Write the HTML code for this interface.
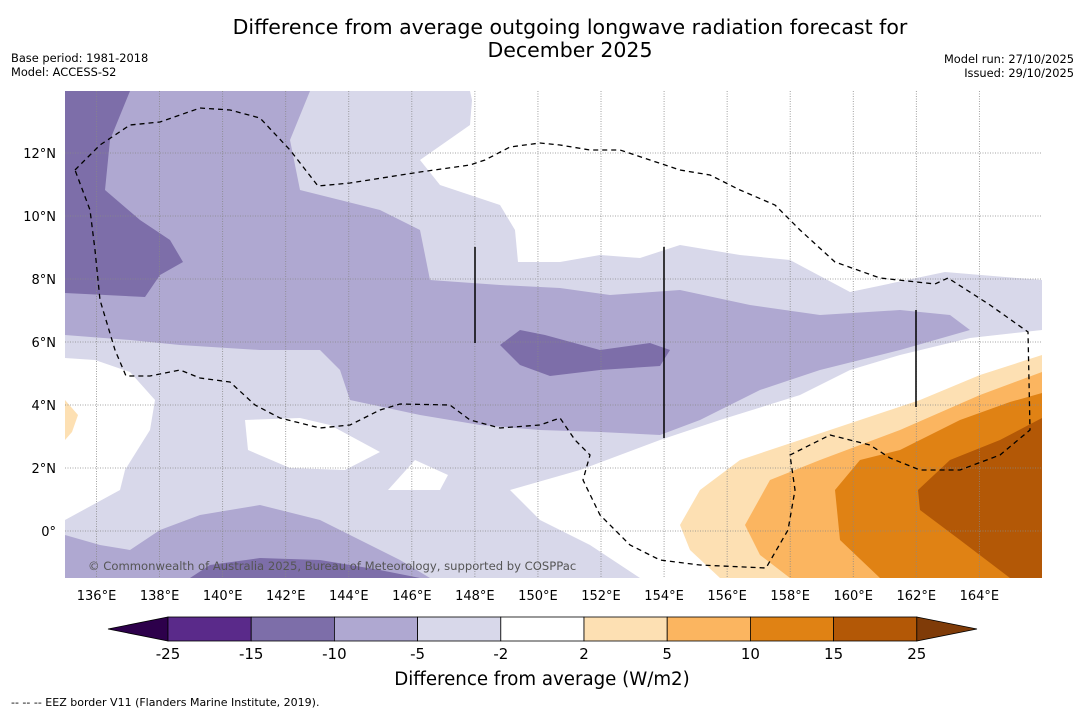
<!DOCTYPE html>
<html><head><meta charset="utf-8">
<style>
body{margin:0;background:#fff;font-family:"Liberation Sans","DejaVu Sans",sans-serif;}
svg{display:block}
text{font-family:"DejaVu Sans","Liberation Sans",sans-serif;}
</style></head>
<body>
<svg id="chart" width="1085" height="713" viewBox="0 0 1085 713">
<text x="570" y="34" text-anchor="middle" font-size="20.5">Difference from average outgoing longwave radiation forecast for</text>
<text x="570" y="57" text-anchor="middle" font-size="20.5">December 2025</text>
<text x="11" y="62" font-size="11.4">Base period: 1981-2018</text>
<text x="11" y="76" font-size="11.4">Model: ACCESS-S2</text>
<text x="1074" y="63" font-size="11.4" text-anchor="end">Model run: 27/10/2025</text>
<text x="1074" y="77" font-size="11.4" text-anchor="end">Issued: 29/10/2025</text>
<defs><clipPath id="mapclip"><rect x="65" y="91" width="977" height="487"/></clipPath></defs>
<g clip-path="url(#mapclip)">
<rect x="65" y="91" width="977" height="487" fill="#d8d8ea"/>
<g fill="#ffffff">
<polygon points="470,91 1042,91 1042,280 945,272 850,292 790,260 740,255 680,245 640,258 600,255 560,262 518,262 515,230 500,205 440,185 420,160 470,125 472,100"/>
<polygon points="65,358 95,360 130,372 155,400 150,430 125,470 120,490 65,520"/>
<polygon points="1042,330 970,338 900,355 850,370 800,395 720,420 660,440 580,470 510,490 540,520 590,545 640,578 1042,578"/>
<polygon points="245,420 300,418 330,425 380,452 345,470 290,468 248,450"/>
<polygon points="388,490 415,460 448,475 440,490"/>
</g>
<polygon points="65,400 78,415 72,432 65,440" fill="#fde0b3"/>
<g fill="#afa8d1">
<polygon points="65,91 310,91 290,140 300,190 380,210 420,230 430,280 500,285 560,288 610,295 680,290 750,305 820,315 900,310 950,315 970,330 900,350 820,370 760,390 700,420 660,435 600,432 540,430 480,425 420,415 350,400 340,370 320,350 260,350 180,345 130,340 65,335"/>
<polygon points="65,535 100,545 130,550 160,530 200,515 260,505 320,520 360,540 400,560 430,578 65,578"/>
</g>
<g fill="#7d6ea9">
<polygon points="65,91 130,91 110,140 105,190 140,220 170,240 183,262 160,275 145,297 65,293"/>
<polygon points="500,345 520,330 545,335 600,350 650,343 670,350 660,366 600,370 550,376 520,365"/>
<polygon points="190,578 210,565 260,558 320,560 380,570 420,578"/>
</g>
<polygon points="680,525 700,490 740,460 800,440 860,420 920,400 980,375 1042,355 1042,578 720,578 690,550" fill="#fde0b3"/>
<polygon points="745,525 770,480 820,460 900,430 980,395 1042,372 1042,578 790,578 760,555" fill="#fbb560"/>
<polygon points="835,490 860,460 900,450 960,420 1010,402 1042,393 1042,578 880,578 840,540" fill="#e08214"/>
<polygon points="918,490 950,460 1000,440 1042,418 1042,578 1010,578 960,540 920,510" fill="#b35806"/>
<g id="grid" stroke="#888" stroke-width="0.8" stroke-dasharray="1,1.5"></g>
<polyline fill="none" stroke="#000" stroke-width="1.3" stroke-dasharray="5,4" points="75,170 100,145 130,125 160,122 200,108 230,110 260,118 290,150 318,186 350,183 420,172 470,165 485,160 510,147 540,143 560,145 590,150 620,150 650,160 680,170 710,175 740,190 775,205 800,230 835,262 880,278 935,284 948,278 990,305 1028,332 1030,430 1000,455 960,470 920,470 890,458 870,445 830,435 790,455 795,490 788,530 766,568 700,565 660,560 630,545 600,515 583,480 590,455 575,440 560,418 540,425 500,428 470,420 450,405 400,404 380,410 350,425 320,428 280,418 255,405 230,382 200,378 180,370 150,376 126,376 115,350 100,300 95,250 90,210 75,170"/>
<g stroke="#000" stroke-width="1.5">
<line x1="475" y1="247" x2="475" y2="343"/><line x1="664" y1="247" x2="664" y2="438"/><line x1="916" y1="310" x2="916" y2="407"/>
</g>
<text x="88" y="570" font-size="11.6" fill="#555">© Commonwealth of Australia 2025, Bureau of Meteorology, supported by COSPPac</text>
</g>
<g id="axes"></g>
<g id="cbar"></g>
<text x="542" y="685" text-anchor="middle" font-size="18.2">Difference from average (W/m2)</text>
<text x="11" y="706" font-size="11">--  --  -- EEZ border V11 (Flanders Marine Institute, 2019).</text>
</svg>
<script>
const lonTicks=[136,138,140,142,144,146,148,150,152,154,156,158,160,162,164];
const latTicks=[0,2,4,6,8,10,12];
const cbLevels=["-25","-15","-10","-5","-2","2","5","10","15","25"];
const cbColors=["#5a2a8a","#7d6ea9","#afa8d1","#d8d8ea","#ffffff","#fde0b3","#fbb560","#e08214","#b35806"];
const NS="http://www.w3.org/2000/svg";
const xS=lon=>65+(lon-135)*31.53;
const yS=lat=>531-lat*31.5;
function mk(t,a,p){const e=document.createElementNS(NS,t);for(const k in a)e.setAttribute(k,a[k]);p.appendChild(e);return e;}
const grid=document.getElementById('grid'),axes=document.getElementById('axes');
lonTicks.forEach(l=>{
 const g=mk('line',{x1:xS(l),x2:xS(l),y1:91,y2:578},grid);
 
 
 const t=mk('text',{x:xS(l),y:600,'text-anchor':'middle','font-size':13},axes);
 t.textContent=l+'°E';
 
 
});
latTicks.forEach(l=>{
 const g=mk('line',{x1:65,x2:1042,y1:yS(l),y2:yS(l)},grid);
 
 
 const t=mk('text',{x:56,y:yS(l)+5,'text-anchor':'end','font-size':13},axes);
 t.textContent=l===0?'0°':l+'°N';
 
 
});
const cb=document.getElementById('cbar');
const x0=168,w=83.2,y0=617,h=24;
const lt=mk('polygon',{points:`108,${y0+h/2} ${x0},${y0} ${x0},${y0+h}`,fill:'#2d004b',stroke:'#000','stroke-width':0.8},cb);


cbColors.forEach((c,i)=>{
 const r=mk('rect',{x:x0+i*w,y:y0,width:w,height:h,fill:c,stroke:'#000','stroke-width':0.8},cb);
 
 
});
const xe=x0+cbColors.length*w;
const rt=mk('polygon',{points:`${xe},${y0} 977,${y0+h/2} ${xe},${y0+h}`,fill:'#7f3b08',stroke:'#000','stroke-width':0.8},cb);


cbLevels.forEach((s,i)=>{
 const t=mk('text',{x:x0+i*w,y:659,'text-anchor':'middle','font-size':15},cb);
 t.textContent=s;
 
 
});
</script>
</body></html>
